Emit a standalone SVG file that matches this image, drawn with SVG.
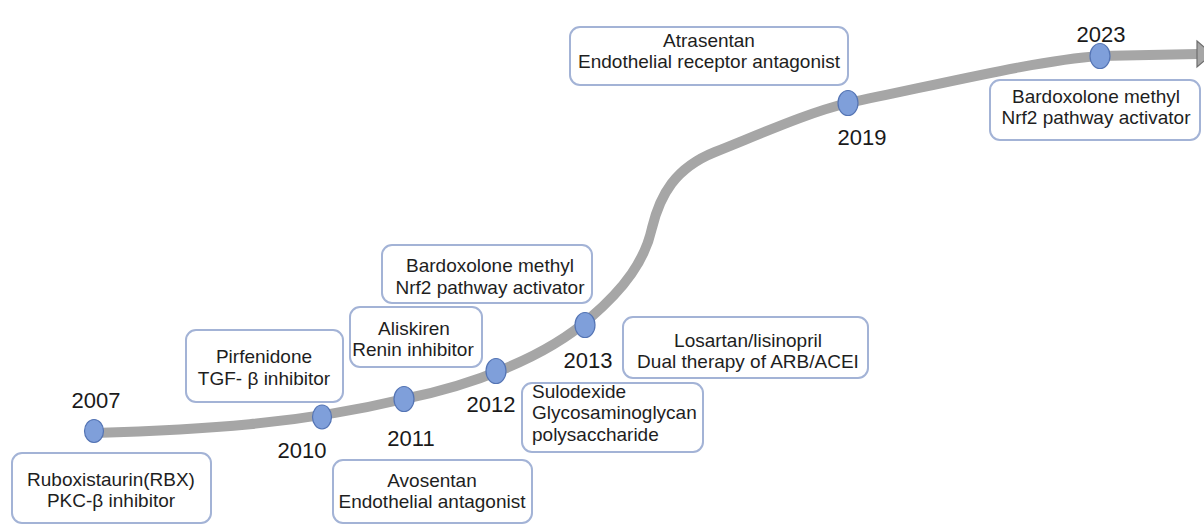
<svg xmlns="http://www.w3.org/2000/svg" width="1204" height="526" viewBox="0 0 1204 526">
<style>
.box{fill:#ffffff;stroke:#a3b3d6;stroke-width:2}
.t{font-family:"Liberation Sans",Arial,sans-serif;font-size:19px;fill:#1e1e1e;text-anchor:middle}
.tl{font-family:"Liberation Sans",Arial,sans-serif;font-size:19px;fill:#1e1e1e}
.yr{font-family:"Liberation Sans",Arial,sans-serif;font-size:22px;fill:#1a1a1a;text-anchor:middle}
.dot{fill:#7f9fda;stroke:#5474b4;stroke-width:1.2}
.line{fill:none;stroke:#a6a6a6;stroke-width:10}
</style>
<rect width="1204" height="526" fill="#ffffff"/>
<g id="connectors">
<path class="line" d="M 94 433 C 200 430, 300 424, 404 399 C 470 386, 545 358, 590 318 C 625 288, 645 260, 652 228 C 660 195, 675 168, 715 152 C 765 132, 810 112, 848 103 C 950 82, 1040 60, 1100 56 L 1198 54"/>
<polygon points="1197,41 1212,54 1197,67" fill="#a6a6a6" stroke="#6e6e6e" stroke-width="1.2"/>
</g>
<g id="y2007"><ellipse class="dot" cx="94" cy="431" rx="9.5" ry="11.5"/><text class="yr" x="96" y="408">2007</text></g>
<g id="y2010"><ellipse class="dot" cx="322" cy="417" rx="9.5" ry="12"/><text class="yr" x="302" y="458">2010</text></g>
<g id="y2011"><ellipse class="dot" cx="404" cy="399" rx="10" ry="12.5"/><text class="yr" x="411" y="446">2011</text></g>
<g id="y2012"><ellipse class="dot" cx="496" cy="371" rx="10" ry="12.5"/><text class="yr" x="491" y="412">2012</text></g>
<g id="y2013"><ellipse class="dot" cx="585" cy="325" rx="10" ry="12.5"/><text class="yr" x="588" y="368">2013</text></g>
<g id="y2019"><ellipse class="dot" cx="848" cy="103" rx="10" ry="12.5"/><text class="yr" x="862" y="145">2019</text></g>
<g id="y2023"><ellipse class="dot" cx="1100" cy="56" rx="10" ry="12.5"/><text class="yr" x="1101" y="42">2023</text></g>
<g id="ruboxistaurin"><rect class="box" x="12" y="453" width="199" height="70" rx="10"/><text class="t" x="111" y="486">Ruboxistaurin(RBX)</text><text class="t" x="111" y="507">PKC-β inhibitor</text></g>
<g id="pirfenidone"><rect class="box" x="186" y="330" width="157" height="72" rx="10"/><text class="t" x="264" y="363">Pirfenidone</text><text class="t" x="264" y="385">TGF- β inhibitor</text></g>
<g id="aliskiren"><rect class="box" x="350" y="307" width="132" height="60" rx="10"/><text class="t" x="414" y="335">Aliskiren</text><text class="t" x="413" y="356">Renin inhibitor</text></g>
<g id="bardoxolone2012"><rect class="box" x="382" y="245" width="210" height="58" rx="10"/><text class="t" x="490" y="272">Bardoxolone methyl</text><text class="t" x="490" y="294">Nrf2 pathway activator</text></g>
<g id="losartan"><rect class="box" x="623" y="317" width="245" height="61" rx="10"/><text class="t" x="748" y="347">Losartan/lisinopril</text><text class="t" x="748" y="368">Dual therapy of ARB/ACEI</text></g>
<g id="sulodexide"><rect class="box" x="522" y="383" width="181" height="69" rx="10"/><text class="tl" x="532" y="398">Sulodexide</text><text class="tl" x="532" y="419">Glycosaminoglycan</text><text class="tl" x="532" y="441">polysaccharide</text></g>
<g id="avosentan"><rect class="box" x="333" y="460" width="199" height="63" rx="10"/><text class="t" x="432" y="487">Avosentan</text><text class="t" x="432" y="508">Endothelial antagonist</text></g>
<g id="atrasentan"><rect class="box" x="570" y="27" width="278" height="58" rx="10"/><text class="t" x="709" y="47">Atrasentan</text><text class="t" x="709" y="68">Endothelial receptor antagonist</text></g>
<g id="bardoxolone2023"><rect class="box" x="990" y="80" width="210" height="60" rx="10"/><text class="t" x="1096" y="103">Bardoxolone methyl</text><text class="t" x="1096" y="124">Nrf2 pathway activator</text></g>
</svg>
